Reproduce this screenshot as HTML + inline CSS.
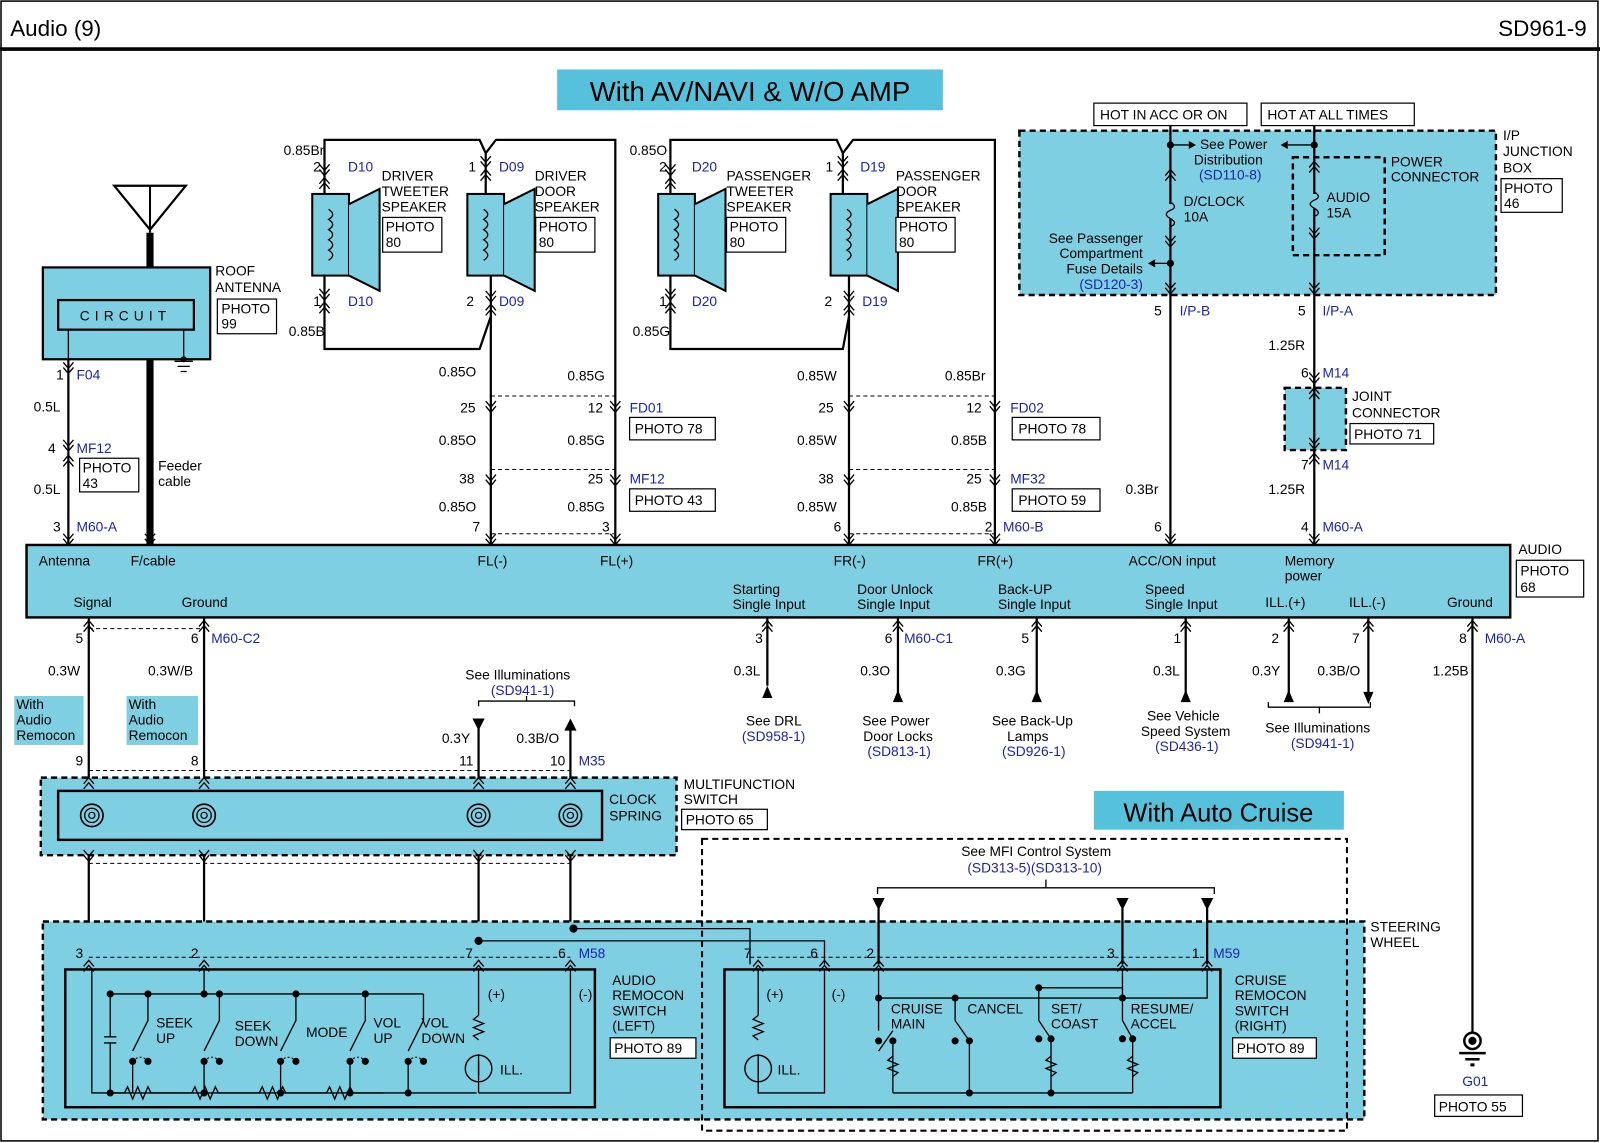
<!DOCTYPE html>
<html><head><meta charset="utf-8"><style>
html,body{margin:0;padding:0;background:#fff;}
svg{display:block;}
text{font-family:"Liberation Sans",Arial,sans-serif;font-size:13.5px;fill:#000;}
.b{fill:#1a24b0;}
.w{stroke:#000;stroke-width:2.2;fill:none;}
.t{stroke:#000;stroke-width:1.3;fill:none;}
.d{stroke:#000;stroke-width:1;fill:none;stroke-dasharray:4 3;}
.dd{stroke:#000;stroke-width:2.4;fill:#7ecfe2;stroke-dasharray:6 4;}
.c{fill:#7ecfe2;}
.pb{fill:#fff;stroke:#000;stroke-width:1.2;}
</style></head><body>
<svg width="1600" height="1143" viewBox="0 0 1568 1120" xmlns="http://www.w3.org/2000/svg">
<defs>
<g id="cd"><path d="M-5,-7 L0,-1 L5,-7 M-5,-2 L0,4 L5,-2" stroke="#000" stroke-width="1.3" fill="none"/></g>
<g id="cu"><path d="M-5,7 L0,1 L5,7 M-5,2 L0,-4 L5,2" stroke="#000" stroke-width="1.3" fill="none"/></g>
<g id="spk"><rect x="-12" y="0" width="36" height="80" fill="#7ecfe2" stroke="#000" stroke-width="2"/><path d="M24,10 L54,-5 L54,95 L24,80" fill="#7ecfe2" stroke="#000" stroke-width="2"/><path d="M4,15 q8,5 0,10 q8,5 0,10 q8,5 0,10 q8,5 0,10 q8,5 0,10" class="t"/></g>
<g id="sp"><circle r="11" fill="none" stroke="#000" stroke-width="1.6"/><circle r="7" fill="none" stroke="#000" stroke-width="1.3"/><circle r="3" fill="none" stroke="#000" stroke-width="1.2"/></g>
</defs>
<rect x="1" y="1" width="1565" height="1117" fill="#fff" stroke="#000" stroke-width="1.5"/>
<line x1="0" y1="48" x2="1568" y2="48" stroke="#000" stroke-width="3.5"/>
<text x="10" y="35" style="font-size:22px">Audio (9)</text>
<text x="1555" y="35" text-anchor="end" style="font-size:22px">SD961-9</text>

<rect x="546" y="68" width="378" height="40" fill="#56c1da"/>
<text x="735" y="99" text-anchor="middle" style="font-size:27px">With AV/NAVI &amp; W/O AMP</text>

<!-- antenna -->
<path d="M112,182 L182,182 L147,225 Z" class="w"/>
<line x1="147" y1="182" x2="147" y2="228" stroke="#000" stroke-width="2"/>
<line x1="147" y1="228" x2="147" y2="262" stroke="#000" stroke-width="7"/>
<rect x="42" y="262" width="164" height="90" class="c" stroke="#000" stroke-width="2.2"/>
<rect x="57" y="294" width="133" height="29" fill="none" stroke="#000" stroke-width="2.2"/>
<text x="123" y="314" text-anchor="middle" style="letter-spacing:5px">CIRCUIT</text>
<path d="M67,323 V352 M180,323 V352 M171,354 h18 M174,359 h12 M177,364 h6" class="t"/>
<circle cx="180" cy="352" r="3"/>
<text x="211" y="270">ROOF</text><text x="211" y="286">ANTENNA</text>
<rect x="213" y="293" width="58" height="34" class="pb"/><text x="217" y="307">PHOTO</text><text x="217" y="322">99</text>
<line x1="67" y1="352" x2="67" y2="534" class="w"/>
<line x1="147" y1="352" x2="147" y2="534" stroke="#000" stroke-width="7"/>
<use href="#cd" x="67" y="362"/><use href="#cd" x="67" y="438"/><use href="#cu" x="67" y="450"/><use href="#cd" x="67" y="530"/><use href="#cd" x="147" y="530"/>
<text x="55" y="372">1</text><text x="75" y="372" class="b">F04</text>
<text x="33" y="403">0.5L</text>
<text x="47" y="444">4</text><text x="75" y="444" class="b">MF12</text>
<rect x="78" y="449" width="58" height="33" class="pb"/><text x="81" y="463">PHOTO</text><text x="81" y="478">43</text>
<text x="33" y="484">0.5L</text>
<text x="52" y="521">3</text><text x="75" y="521" class="b">M60-A</text>
<text x="155" y="461">Feeder</text><text x="155" y="476">cable</text>

<!-- speakers -->
<use href="#spk" x="318" y="190"/><use href="#spk" x="470" y="190"/>
<use href="#spk" x="657" y="190"/><use href="#spk" x="826" y="190"/>
<path d="M318,190 V137 H470 L476,150 V190" class="w"/>
<path d="M476,150 L486,137 H603 V534" class="w"/>
<path d="M318,270 V342 H470 L481,310 V270" class="w"/>
<line x1="481" y1="310" x2="481" y2="534" class="w"/>
<use href="#cd" x="318" y="168"/><use href="#cu" x="318" y="178"/><use href="#cd" x="318" y="290"/><use href="#cu" x="318" y="300"/>
<use href="#cd" x="476" y="160"/><use href="#cu" x="476" y="170"/><use href="#cd" x="481" y="292"/><use href="#cu" x="481" y="302"/>
<text x="278" y="152">0.85Br</text><text x="307" y="168">2</text><text x="341" y="168" class="b">D10</text>
<text x="307" y="300">1</text><text x="341" y="300" class="b">D10</text><text x="283" y="329">0.85B</text>
<text x="459" y="168">1</text><text x="489" y="168" class="b">D09</text>
<text x="457" y="300">2</text><text x="489" y="300" class="b">D09</text>
<text x="374" y="177">DRIVER</text><text x="374" y="192">TWEETER</text><text x="374" y="207">SPEAKER</text>
<rect x="375" y="213" width="58" height="34" class="pb"/><text x="378" y="227">PHOTO</text><text x="378" y="242">80</text>
<text x="524" y="177">DRIVER</text><text x="524" y="192">DOOR</text><text x="524" y="207">SPEAKER</text>
<rect x="525" y="213" width="58" height="34" class="pb"/><text x="528" y="227">PHOTO</text><text x="528" y="242">80</text>
<path d="M657,190 V137 H820 L826,150 V190" class="w"/>
<path d="M826,150 L836,137 H975 V534" class="w"/>
<path d="M657,270 V342 H826 L832,310 V270" class="w"/>
<line x1="832" y1="310" x2="832" y2="534" class="w"/>
<use href="#cd" x="657" y="168"/><use href="#cu" x="657" y="178"/><use href="#cd" x="657" y="290"/><use href="#cu" x="657" y="300"/>
<use href="#cd" x="826" y="160"/><use href="#cu" x="826" y="170"/><use href="#cd" x="832" y="292"/><use href="#cu" x="832" y="302"/>
<text x="617" y="152">0.85O</text><text x="646" y="168">2</text><text x="678" y="168" class="b">D20</text>
<text x="646" y="300">1</text><text x="678" y="300" class="b">D20</text><text x="620" y="329">0.85G</text>
<text x="809" y="168">1</text><text x="843" y="168" class="b">D19</text>
<text x="808" y="300">2</text><text x="845" y="300" class="b">D19</text>
<text x="712" y="177">PASSENGER</text><text x="712" y="192">TWEETER</text><text x="712" y="207">SPEAKER</text>
<rect x="712" y="213" width="58" height="34" class="pb"/><text x="715" y="227">PHOTO</text><text x="715" y="242">80</text>
<text x="878" y="177">PASSENGER</text><text x="878" y="192">DOOR</text><text x="878" y="207">SPEAKER</text>
<rect x="878" y="213" width="58" height="34" class="pb"/><text x="881" y="227">PHOTO</text><text x="881" y="242">80</text>
<path d="M481,388 H603 M481,460 H603 M481,523 H603 M832,388 H975 M832,460 H975 M832,523 H975" class="d"/>
<use href="#cd" x="481" y="400"/><use href="#cd" x="603" y="400"/><use href="#cd" x="481" y="472"/><use href="#cd" x="603" y="472"/>
<use href="#cd" x="832" y="400"/><use href="#cd" x="975" y="400"/><use href="#cd" x="832" y="472"/><use href="#cd" x="975" y="472"/>
<use href="#cd" x="481" y="530"/><use href="#cd" x="603" y="530"/><use href="#cd" x="832" y="530"/><use href="#cd" x="975" y="530"/>
<text x="430" y="369">0.85O</text><text x="556" y="373">0.85G</text>
<text x="451" y="404">25</text><text x="576" y="404">12</text><text x="617" y="404" class="b">FD01</text>
<rect x="617" y="409" width="84" height="22" class="pb"/><text x="622" y="425">PHOTO 78</text>
<text x="430" y="436">0.85O</text><text x="556" y="436">0.85G</text>
<text x="450" y="474">38</text><text x="576" y="474">25</text><text x="617" y="474" class="b">MF12</text>
<rect x="617" y="479" width="84" height="22" class="pb"/><text x="622" y="495">PHOTO 43</text>
<text x="430" y="501">0.85O</text><text x="556" y="501">0.85G</text>
<text x="463" y="521">7</text><text x="590" y="521">3</text>
<text x="781" y="373">0.85W</text><text x="926" y="373">0.85Br</text>
<text x="802" y="404">25</text><text x="947" y="404">12</text><text x="990" y="404" class="b">FD02</text>
<rect x="992" y="409" width="86" height="22" class="pb"/><text x="998" y="425">PHOTO 78</text>
<text x="781" y="436">0.85W</text><text x="932" y="436">0.85B</text>
<text x="802" y="474">38</text><text x="947" y="474">25</text><text x="990" y="474" class="b">MF32</text>
<rect x="992" y="479" width="86" height="22" class="pb"/><text x="998" y="495">PHOTO 59</text>
<text x="781" y="501">0.85W</text><text x="932" y="501">0.85B</text>
<text x="817" y="521">6</text><text x="965" y="521">2</text><text x="983" y="521" class="b">M60-B</text>

<!-- junction box -->
<rect x="1072" y="101" width="150" height="22" class="pb"/><text x="1078" y="117">HOT IN ACC OR ON</text>
<rect x="1236" y="101" width="150" height="22" class="pb"/><text x="1242" y="117">HOT AT ALL TIMES</text>
<rect x="999" y="128" width="467" height="161" class="dd"/>
<rect x="1267" y="154" width="90" height="96" fill="none" stroke="#000" stroke-width="2.4" stroke-dasharray="6 4"/>
<path d="M1147,123 V534 M1288,123 V534" class="w"/>
<rect x="1140" y="200" width="14" height="14" fill="#7ecfe2"/><path d="M1147,198 q8,5 0,8 q-8,4 0,8 q8,5 0,8" class="t"/>
<rect x="1281" y="190" width="14" height="14" fill="#7ecfe2"/><path d="M1288,188 q8,5 0,8 q-8,4 0,8 q8,5 0,8" class="t"/>
<circle cx="1147" cy="142" r="3.5"/><circle cx="1288" cy="142" r="3.5"/>
<path d="M1147,142 H1165" class="t"/><path d="M1165,138 l7,4 l-7,4z"/>
<path d="M1288,142 H1262" class="t"/><path d="M1262,138 l-7,4 l7,4z"/>
<path d="M1147,258 H1132" class="t"/><path d="M1132,254 l-7,4 l7,4z"/><circle cx="1147" cy="258" r="3.5"/>
<use href="#cu" x="1147" y="170"/><use href="#cd" x="1147" y="238"/><use href="#cu" x="1288" y="162"/><use href="#cd" x="1288" y="230"/>
<use href="#cd" x="1147" y="284"/><use href="#cd" x="1288" y="284"/>
<text x="1176" y="146">See Power</text><text x="1170" y="161">Distribution</text><text x="1175" y="176" class="b">(SD110-8)</text>
<text x="1160" y="202">D/CLOCK</text><text x="1160" y="217">10A</text>
<text x="1300" y="198">AUDIO</text><text x="1300" y="213">15A</text>
<text x="1363" y="163">POWER</text><text x="1363" y="178">CONNECTOR</text>
<text x="1120" y="238" text-anchor="end">See Passenger</text><text x="1120" y="253" text-anchor="end">Compartment</text><text x="1120" y="268" text-anchor="end">Fuse Details</text><text x="1120" y="283" text-anchor="end" class="b">(SD120-3)</text>
<text x="1473" y="137">I/P</text><text x="1473" y="153">JUNCTION</text><text x="1473" y="169">BOX</text>
<rect x="1471" y="175" width="60" height="33" class="pb"/><text x="1474" y="189">PHOTO</text><text x="1474" y="204">46</text>
<text x="1131" y="309">5</text><text x="1156" y="309" class="b">I/P-B</text>
<text x="1272" y="309">5</text><text x="1296" y="309" class="b">I/P-A</text>
<text x="1243" y="343">1.25R</text>
<rect x="1259" y="380" width="60" height="61" class="dd" stroke-width="2"/>
<line x1="1288" y1="370" x2="1288" y2="450" class="w"/>
<use href="#cd" x="1288" y="372"/><use href="#cu" x="1288" y="384"/><use href="#cd" x="1288" y="436"/><use href="#cu" x="1288" y="448"/>
<text x="1275" y="370">6</text><text x="1296" y="370" class="b">M14</text>
<text x="1325" y="393">JOINT</text><text x="1325" y="409">CONNECTOR</text>
<rect x="1323" y="415" width="82" height="20" class="pb"/><text x="1327" y="430">PHOTO 71</text>
<text x="1275" y="460">7</text><text x="1296" y="460" class="b">M14</text>
<text x="1243" y="484">1.25R</text><text x="1103" y="484">0.3Br</text>
<text x="1131" y="521">6</text><text x="1275" y="521">4</text><text x="1296" y="521" class="b">M60-A</text>
<use href="#cd" x="1147" y="530"/><use href="#cd" x="1288" y="530"/>

<!-- audio box -->
<rect x="26" y="534" width="1454" height="71" class="c" stroke="#000" stroke-width="2.4"/>
<text x="38" y="554">Antenna</text><text x="128" y="554">F/cable</text>
<text x="468" y="554">FL(-)</text><text x="588" y="554">FL(+)</text>
<text x="817" y="554">FR(-)</text><text x="958" y="554">FR(+)</text>
<text x="1106" y="554">ACC/ON input</text><text x="1259" y="554">Memory</text><text x="1259" y="569">power</text>
<text x="72" y="595">Signal</text><text x="178" y="595">Ground</text>
<text x="718" y="582">Starting</text><text x="718" y="597">Single Input</text>
<text x="840" y="582">Door Unlock</text><text x="840" y="597">Single Input</text>
<text x="978" y="582">Back-UP</text><text x="978" y="597">Single Input</text>
<text x="1122" y="582">Speed</text><text x="1122" y="597">Single Input</text>
<text x="1240" y="595">ILL.(+)</text><text x="1322" y="595">ILL.(-)</text><text x="1418" y="595">Ground</text>
<text x="1488" y="543">AUDIO</text>
<rect x="1486" y="549" width="66" height="36" class="pb"/><text x="1490" y="564">PHOTO</text><text x="1490" y="580">68</text>

<path d="M87,605 V945 M200,605 V945 M1443,605 V1012" class="w"/>
<path d="M752,605 V672 M880,605 V680 M1016,605 V680 M1162,605 V680 M1263,605 V680 M1341,605 V680" class="w"/>
<path d="M87,616 H200" class="d"/>
<path d="M747,684 l5,-12 l5,12z M875,688 l5,-12 l5,12z M1011,688 l5,-12 l5,12z M1157,688 l5,-12 l5,12z M1258,688 l5,-12 l5,12z M1336,678 l5,12 l5,-12z"/>
<g><use href="#cu" x="87" y="612"/><use href="#cu" x="200" y="612"/><use href="#cu" x="752" y="612"/><use href="#cu" x="880" y="612"/><use href="#cu" x="1016" y="612"/><use href="#cu" x="1162" y="612"/><use href="#cu" x="1263" y="612"/><use href="#cu" x="1341" y="612"/><use href="#cu" x="1443" y="612"/></g>
<text x="74" y="630">5</text><text x="187" y="630">6</text><text x="207" y="630" class="b">M60-C2</text>
<text x="740" y="630">3</text><text x="867" y="630">6</text><text x="886" y="630" class="b">M60-C1</text>
<text x="1001" y="630">5</text><text x="1150" y="630">1</text><text x="1246" y="630">2</text><text x="1325" y="630">7</text><text x="1430" y="630">8</text><text x="1455" y="630" class="b">M60-A</text>
<text x="47" y="662">0.3W</text><text x="145" y="662">0.3W/B</text>
<text x="719" y="662">0.3L</text><text x="843" y="662">0.3O</text><text x="976" y="662">0.3G</text><text x="1130" y="662">0.3L</text><text x="1227" y="662">0.3Y</text><text x="1291" y="662">0.3B/O</text><text x="1404" y="662">1.25B</text>
<text x="731" y="711">See DRL</text><text x="727" y="726" class="b">(SD958-1)</text>
<text x="845" y="711">See Power</text><text x="846" y="726">Door Locks</text><text x="850" y="741" class="b">(SD813-1)</text>
<text x="972" y="711">See Back-Up</text><text x="987" y="726">Lamps</text><text x="982" y="741" class="b">(SD926-1)</text>
<text x="1124" y="706">See Vehicle</text><text x="1118" y="721">Speed System</text><text x="1132" y="736" class="b">(SD436-1)</text>
<path d="M1243,688 v5 h100 v-5" class="t"/><path d="M1293,693 v6" class="t"/>
<text x="1240" y="718">See Illuminations</text><text x="1265" y="733" class="b">(SD941-1)</text>
<rect x="14" y="682" width="68" height="48" fill="#7ecfe2"/><text x="16" y="695">With</text><text x="16" y="710">Audio</text><text x="16" y="725">Remocon</text>
<rect x="124" y="682" width="70" height="48" fill="#7ecfe2"/><text x="126" y="695">With</text><text x="126" y="710">Audio</text><text x="126" y="725">Remocon</text>

<text x="456" y="666">See Illuminations</text><text x="481" y="681" class="b">(SD941-1)</text>
<path d="M469,692 v-5 h94 v5 M516,687 v-5" class="t"/>
<path d="M463,704 l6,12 l6,-12z M553,716 l6,-12 l6,12z"/>
<path d="M469,706 V945 M559,710 V945" class="w"/>
<text x="433" y="728">0.3Y</text><text x="506" y="728">0.3B/O</text>

<path d="M87,755 H559 M87,846 H559" class="d"/>
<text x="74" y="750">9</text><text x="187" y="750">8</text><text x="450" y="750">11</text><text x="539" y="750">10</text><text x="567" y="750" class="b">M35</text>
<rect x="40" y="762" width="623" height="76" class="dd"/>
<rect x="57" y="775" width="533" height="48" fill="none" stroke="#000" stroke-width="2.4"/>
<use href="#sp" x="90" y="799"/><use href="#sp" x="200" y="799"/><use href="#sp" x="469" y="799"/><use href="#sp" x="559" y="799"/>
<g><use href="#cu" x="87" y="766"/><use href="#cu" x="200" y="766"/><use href="#cu" x="469" y="766"/><use href="#cu" x="559" y="766"/>
<use href="#cd" x="87" y="840"/><use href="#cd" x="200" y="840"/><use href="#cd" x="469" y="840"/><use href="#cd" x="559" y="840"/></g>
<text x="597" y="788">CLOCK</text><text x="597" y="804">SPRING</text>
<text x="670" y="773">MULTIFUNCTION</text><text x="670" y="788">SWITCH</text>
<rect x="668" y="793" width="84" height="20" class="pb"/><text x="672" y="808">PHOTO 65</text>

<rect x="1072" y="775" width="245" height="38" fill="#56c1da"/>
<text x="1194" y="805" text-anchor="middle" style="font-size:25px">With  Auto Cruise</text>

<rect x="42" y="903" width="1295" height="194" class="dd"/>
<rect x="688" y="822" width="632" height="286" fill="none" stroke="#000" stroke-width="2" stroke-dasharray="6 4"/>
<text x="1343" y="913">STEERING</text><text x="1343" y="928">WHEEL</text>
<text x="942" y="839">See MFI Control System</text><text x="948" y="855" class="b">(SD313-5)(SD313-10)</text>
<path d="M860,876 v-6 h330 v6 M1025,870 v-8" class="t"/>
<path d="M855,880 l6,12 l6,-12z M1094,880 l6,12 l6,-12z M1177,880 l6,12 l6,-12z"/>
<path d="M861,890 V945 M1100,890 V945 M1183,890 V945" class="w"/>
<path d="M469,922 H808 V945 M559,910 H735 V945" class="t" stroke-width="1.6"/>
<circle cx="469" cy="922" r="4"/><circle cx="562" cy="910" r="4"/>
<path d="M87,938 H559 M735,938 H1183" class="d"/>
<g><use href="#cu" x="87" y="945"/><use href="#cu" x="200" y="945"/><use href="#cu" x="469" y="945"/><use href="#cu" x="559" y="945"/>
<use href="#cu" x="743" y="945"/><use href="#cu" x="808" y="945"/><use href="#cu" x="861" y="945"/><use href="#cu" x="1100" y="945"/><use href="#cu" x="1183" y="945"/></g>
<text x="74" y="939">3</text><text x="187" y="939">2</text><text x="456" y="939">7</text><text x="547" y="939">6</text><text x="567" y="939" class="b">M58</text>
<text x="729" y="939">7</text><text x="794" y="939">6</text><text x="849" y="939">2</text><text x="1085" y="939">3</text><text x="1168" y="939">1</text><text x="1189" y="939" class="b">M59</text>

<rect x="64" y="950" width="519" height="135" fill="none" stroke="#000" stroke-width="2.4"/>
<path d="M90,950 V1071 H467 M200,950 V974 H415 M108,974 H200 M469,950 V995 M469,1033 V1071 M559,950 V1071 H469" class="t"/>
<path d="M469,995 l-5,4 l10,4 l-10,4 l10,4 l-10,4 l5,4" class="t"/>
<circle cx="469" cy="1047" r="13" fill="none" stroke="#000" stroke-width="1.4"/><path d="M469,1040 v14" class="t"/>
<path d="M108,974 V1016 M102,1016 h12 M102,1022 h12 M108,1022 V1071" class="t"/>
<g class="t">
<path d="M108,1071 h14 l3,-6 l5,12 l5,-12 l5,12 l5,-12 l3,6 h40 l3,-6 l5,12 l5,-12 l5,12 l5,-12 l3,6 h40 l3,-6 l5,12 l5,-12 l5,12 l5,-12 l3,6 h40 l3,-6 l5,12 l5,-12 l5,12 l5,-12 l3,6 h30"/>
</g>
<g fill="#000">
<circle cx="108" cy="974" r="3.5"/><circle cx="145" cy="974" r="3.5"/><circle cx="215" cy="974" r="3.5"/><circle cx="290" cy="974" r="3.5"/><circle cx="358" cy="974" r="3.5"/><circle cx="200" cy="974" r="3.5"/>
<circle cx="145" cy="1040" r="3.5"/><circle cx="215" cy="1040" r="3.5"/><circle cx="290" cy="1040" r="3.5"/><circle cx="358" cy="1040" r="3.5"/><circle cx="415" cy="1040" r="3.5"/>
<circle cx="130" cy="1040" r="3.5"/><circle cx="200" cy="1040" r="3.5"/><circle cx="275" cy="1040" r="3.5"/><circle cx="343" cy="1040" r="3.5"/><circle cx="400" cy="1040" r="3.5"/>
<circle cx="108" cy="1071" r="3.5"/><circle cx="200" cy="1071" r="3.5"/><circle cx="275" cy="1071" r="3.5"/><circle cx="343" cy="1071" r="3.5"/><circle cx="400" cy="1071" r="3.5"/>
</g>
<path d="M145,974 V1000 L130,1030 M215,974 V1000 L200,1030 M290,974 V1000 L275,1030 M358,974 V1000 L343,1030 M415,974 V1000 L400,1030 M130,1040 V1071 M200,1040 V1071 M275,1040 V1071 M343,1040 V1071 M400,1040 V1071" class="t"/>
<path d="M130,1040 q8,-8 15,0 M200,1040 q8,-8 15,0 M275,1040 q8,-8 15,0 M343,1040 q8,-8 15,0 M400,1040 q8,-8 15,0" fill="none" stroke="#000" stroke-width="1" stroke-dasharray="2 2"/>
<text x="153" y="1007">SEEK</text><text x="153" y="1022">UP</text>
<text x="230" y="1010">SEEK</text><text x="230" y="1025">DOWN</text>
<text x="300" y="1016">MODE</text>
<text x="366" y="1007">VOL</text><text x="366" y="1022">UP</text>
<text x="413" y="1007">VOL</text><text x="413" y="1022">DOWN</text>
<text x="478" y="979">(+)</text><text x="567" y="979">(-)</text><text x="490" y="1053">ILL.</text>
<text x="600" y="965">AUDIO</text><text x="600" y="980">REMOCON</text><text x="600" y="995">SWITCH</text><text x="600" y="1010">(LEFT)</text>
<rect x="598" y="1017" width="84" height="20" class="pb"/><text x="602" y="1032">PHOTO 89</text>

<rect x="710" y="950" width="486" height="135" fill="none" stroke="#000" stroke-width="2.4"/>
<path d="M743,950 V995 M743,1033 V1071 H808 V950 M861,950 V1010 M861,978 H1183 V950 M1100,950 V978 M936,978 V1000 M1018,968 V1000 M1018,968 H1100 M1100,978 V1000 M861,1030 L875,1010 M936,1000 L950,1020 M1018,1000 L1030,1018 M1100,1000 L1110,1018 M875,1020 V1071 M950,1020 V1071 M1030,1018 V1071 M1110,1018 V1071 M875,1071 H1110 M950,1071 H1030" class="t"/>
<path d="M743,995 l-5,4 l10,4 l-10,4 l10,4 l-10,4 l5,4 M875,1035 l-5,4 l10,4 l-10,4 l10,4 l-5,4 M1030,1035 l-5,4 l10,4 l-10,4 l10,4 l-5,4 M1110,1035 l-5,4 l10,4 l-10,4 l10,4 l-5,4" class="t"/>
<circle cx="743" cy="1047" r="13" fill="none" stroke="#000" stroke-width="1.4"/><path d="M743,1040 v14" class="t"/>
<g fill="#000"><circle cx="861" cy="978" r="3.5"/><circle cx="936" cy="978" r="3.5"/><circle cx="1018" cy="968" r="3.5"/><circle cx="1100" cy="978" r="3.5"/><circle cx="861" cy="1020" r="3.5"/><circle cx="875" cy="1020" r="3.5"/><circle cx="936" cy="1020" r="3.5"/><circle cx="950" cy="1020" r="3.5"/><circle cx="1018" cy="1018" r="3.5"/><circle cx="1030" cy="1018" r="3.5"/><circle cx="1100" cy="1018" r="3.5"/><circle cx="1110" cy="1018" r="3.5"/><circle cx="950" cy="1071" r="3.5"/><circle cx="1030" cy="1071" r="3.5"/></g>
<text x="751" y="979">(+)</text><text x="815" y="979">(-)</text><text x="762" y="1053">ILL.</text>
<text x="873" y="993">CRUISE</text><text x="873" y="1008">MAIN</text>
<text x="948" y="993">CANCEL</text>
<text x="1030" y="993">SET/</text><text x="1030" y="1008">COAST</text>
<text x="1108" y="993">RESUME/</text><text x="1108" y="1008">ACCEL</text>
<text x="1210" y="965">CRUISE</text><text x="1210" y="980">REMOCON</text><text x="1210" y="995">SWITCH</text><text x="1210" y="1010">(RIGHT)</text>
<rect x="1208" y="1017" width="82" height="20" class="pb"/><text x="1212" y="1032">PHOTO 89</text>

<circle cx="1443" cy="1020" r="8" fill="none" stroke="#000" stroke-width="2.4"/><circle cx="1443" cy="1020" r="4"/>
<path d="M1430,1032 h26 M1436,1038 h14" stroke="#000" stroke-width="2.4"/><rect x="1441" y="1042" width="4" height="3"/>
<text x="1433" y="1064" class="b">G01</text>
<rect x="1406" y="1073" width="86" height="21" class="pb"/><text x="1410" y="1089">PHOTO 55</text>
</svg>
</body></html>
